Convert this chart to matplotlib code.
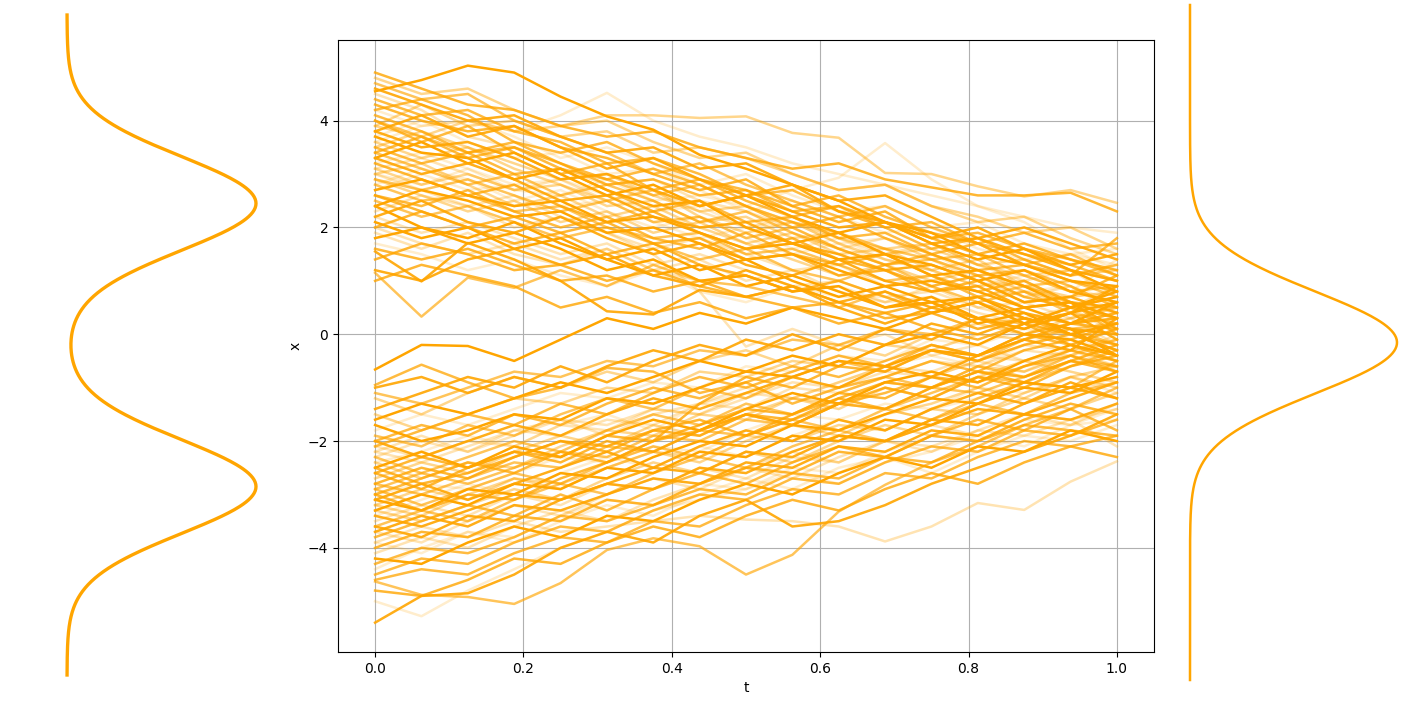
import numpy as np
import matplotlib
matplotlib.use("Agg")
import matplotlib.pyplot as plt

# time grid (17 steps from 0 to 1)
t = np.linspace(0, 1, 17)

# trajectories starting in the upper mode
upper_paths = [
    [4.55, 4.76, 5.03, 4.9, 4.45, 4.08, 3.83, 3.36, 3.1, 2.8, 2.5, 2.1, 1.9, 1.5, 1.3, 1.0, 0.9],
    [3.9, 3.7, 4.0, 3.8, 3.9, 4.1, 4.1, 4.05, 4.08, 3.77, 3.68, 3.02, 3.0, 2.77, 2.58, 2.7, 2.46],
    [4.9, 4.6, 4.3, 4.2, 3.9, 3.7, 3.8, 3.5, 3.3, 3.1, 3.2, 2.9, 2.75, 2.6, 2.6, 2.65, 2.3],
    [3.0, 2.8, 3.1, 2.7, 2.6, 2.9, 2.5, 2.6, 2.4, 2.7, 2.93, 3.58, 2.9, 2.4, 2.1, 1.6, 1.2],
    [1.15, 0.33, 1.06, 0.87, 1.2, 0.9, 1.3, 1.0, 0.9, 0.7, 0.5, 0.8, 0.4, 0.6, 0.3, 0.1, 0.2],
    [1.55, 0.99, 1.71, 1.4, 1.0, 0.43, 0.37, 0.83, 0.7, 0.9, 0.5, 0.2, 0.5, 0.3, 0.1, 0.4, -0.1],
    [4.5, 4.2, 3.7, 3.5, 3.1, 2.8, 2.9, 2.5, 2.3, 2.0, 1.6, 1.8, 1.4, 1.0, 0.7, 0.9, 0.5],
    [4.2, 4.4, 4.1, 3.6, 3.4, 3.6, 3.2, 2.9, 2.7, 2.4, 2.6, 2.2, 1.9, 1.7, 1.9, 1.6, 1.7],
    [3.7, 3.4, 3.3, 2.9, 3.1, 2.7, 2.4, 2.5, 2.0, 1.7, 1.9, 1.5, 1.3, 1.0, 1.2, 0.8, 0.6],
    [3.5, 3.8, 3.5, 3.2, 2.9, 3.0, 2.6, 2.3, 2.4, 2.1, 1.8, 1.6, 1.7, 1.3, 1.1, 1.2, 1.0],
    [3.2, 2.9, 2.6, 2.8, 2.4, 2.1, 2.3, 1.9, 1.6, 1.8, 1.4, 1.2, 0.9, 1.1, 0.7, 0.5, 0.3],
    [2.8, 3.1, 2.9, 2.5, 2.7, 2.3, 2.0, 2.2, 1.8, 1.5, 1.7, 1.3, 1.5, 1.1, 0.8, 0.9, 0.6],
    [2.5, 2.2, 2.4, 2.1, 1.8, 2.0, 1.7, 1.4, 1.6, 1.2, 1.0, 1.3, 0.9, 0.6, 0.8, 0.4, 0.2],
    [2.2, 2.5, 2.1, 1.9, 2.2, 1.8, 1.5, 1.7, 1.3, 1.1, 1.4, 1.0, 0.8, 0.9, 0.5, 0.6, 0.1],
    [1.9, 1.6, 1.9, 1.5, 1.3, 1.6, 1.2, 1.4, 1.0, 1.2, 0.8, 0.6, 0.9, 0.5, 0.3, 0.5, 0.0],
    [4.0, 3.6, 3.9, 3.4, 3.0, 3.2, 2.7, 2.9, 2.5, 2.2, 2.4, 2.0, 1.6, 1.8, 1.4, 1.1, 1.3],
    [3.3, 3.6, 3.2, 3.4, 3.0, 2.6, 2.8, 2.4, 2.6, 2.2, 1.9, 2.1, 1.7, 1.4, 1.6, 1.2, 0.8],
    [2.9, 2.6, 2.3, 2.5, 2.1, 2.3, 1.9, 2.1, 1.7, 1.4, 1.1, 1.3, 1.0, 1.2, 0.8, 0.6, 0.4],
    [2.0, 2.3, 2.0, 1.7, 1.9, 1.5, 1.7, 1.3, 1.1, 0.8, 1.0, 0.7, 0.4, 0.6, 0.2, 0.0, -0.2],
    [1.7, 1.5, 1.2, 1.4, 1.1, 0.9, 1.2, 0.8, 0.6, 0.9, 0.7, 0.7, 0.4, 0.1, 0.3, -0.1, -0.3],
    [4.7, 4.4, 4.5, 4.0, 3.7, 3.4, 3.0, 3.2, 2.8, 2.5, 2.2, 2.4, 2.0, 1.7, 1.3, 1.5, 1.1],
    [3.8, 4.1, 3.7, 3.9, 3.5, 3.1, 3.3, 2.9, 2.6, 2.8, 2.3, 2.1, 1.8, 2.0, 1.6, 1.3, 1.5],
    [3.1, 3.3, 3.0, 2.7, 2.9, 2.5, 2.7, 2.3, 2.0, 2.2, 1.8, 1.5, 1.7, 1.3, 1.0, 1.2, 0.7],
    [2.6, 2.4, 2.7, 2.3, 2.0, 2.2, 1.8, 1.6, 1.9, 1.5, 1.3, 1.5, 1.1, 0.8, 1.0, 0.6, 0.5],
    [2.4, 2.0, 1.8, 2.1, 1.7, 1.4, 1.6, 1.2, 1.4, 1.0, 0.7, 0.9, 0.6, 0.7, 0.3, 0.1, -0.4],
    [3.6, 3.3, 3.5, 3.1, 2.8, 2.5, 2.7, 2.2, 1.9, 2.1, 1.7, 1.4, 1.2, 1.4, 0.9, 0.7, 0.8],
    [4.3, 4.0, 3.8, 3.9, 3.5, 3.3, 3.0, 2.7, 2.9, 2.4, 2.1, 2.3, 1.8, 1.5, 1.7, 1.4, 1.2],
    [2.7, 3.0, 2.7, 2.8, 2.4, 2.5, 2.1, 1.8, 2.0, 1.6, 1.8, 1.4, 1.2, 0.9, 1.1, 0.8, 1.4],
    [3.4, 3.1, 2.8, 3.0, 2.6, 2.8, 2.5, 2.1, 2.3, 1.9, 1.6, 1.3, 1.5, 1.2, 0.9, 1.0, 0.7],
    [1.2, 1.0, 1.4, 1.6, 1.3, 1.5, 1.1, 0.9, 1.2, 0.9, 0.6, 0.8, 0.5, 0.7, 0.4, 0.2, 0.3],
    [3.0, 2.7, 2.4, 2.6, 2.2, 1.9, 1.5, 0.8, -0.23, 0.1, -0.2, 0.0, -0.4, -0.2, -0.5, -0.3, -0.6],
    [4.1, 3.8, 3.4, 3.6, 3.2, 2.9, 3.1, 2.8, 2.4, 2.0, 2.2, 1.8, 1.5, 1.7, 1.3, 1.1, 1.8],
    [2.1, 1.8, 2.0, 1.6, 1.8, 1.4, 1.1, 1.3, 0.9, 1.1, 0.8, 0.5, 0.7, 0.3, 0.5, 0.2, 0.6],
    [3.9, 4.3, 3.9, 4.0, 3.7, 3.8, 3.4, 3.5, 3.3, 3.0, 2.7, 2.8, 2.4, 2.2, 1.9, 2.0, 1.6],
    [1.0, 1.3, 1.1, 0.9, 0.5, 0.7, 0.4, 0.6, 0.3, 0.5, 0.2, 0.4, 0.1, -0.1, 0.2, -0.2, -0.5],
    [3.6, 3.9, 4.0, 3.8, 4.1, 4.52, 4.0, 3.7, 3.5, 3.2, 3.0, 2.8, 2.6, 2.4, 2.2, 2.0, 1.9],
    [4.0, 3.7, 3.4, 3.5, 3.1, 2.9, 2.6, 2.8, 2.4, 2.1, 1.9, 1.6, 1.4, 1.5, 1.1, 0.8, 0.9],
    [3.3, 3.0, 3.2, 2.9, 2.5, 2.6, 2.2, 2.0, 2.1, 1.7, 1.5, 1.2, 1.3, 1.0, 0.6, 0.7, 0.4],
    [2.3, 2.6, 2.4, 2.0, 2.2, 1.9, 1.6, 1.8, 1.5, 1.2, 1.3, 0.9, 1.1, 0.7, 0.8, 0.5, 0.9],
    [4.4, 4.1, 4.2, 3.8, 3.6, 3.2, 3.3, 3.0, 2.6, 2.7, 2.3, 2.0, 2.1, 1.7, 1.5, 1.3, 1.0],
    [1.8, 2.0, 1.7, 1.9, 1.6, 1.2, 1.4, 1.0, 1.1, 0.8, 0.9, 0.5, 0.6, 0.2, 0.4, 0.0, 0.2],
    [3.0, 3.2, 2.8, 2.4, 2.6, 2.2, 2.4, 2.0, 1.7, 1.9, 1.5, 1.6, 1.2, 0.9, 1.0, 0.6, 0.3],
    [2.6, 2.3, 2.0, 2.2, 1.9, 2.1, 1.7, 1.8, 1.4, 1.5, 1.1, 1.2, 0.8, 1.0, 0.6, 0.7, 1.1],
    [3.7, 4.0, 3.6, 3.3, 3.4, 3.0, 3.1, 2.7, 2.3, 2.5, 2.2, 1.9, 2.0, 1.6, 1.4, 1.5, 1.3],
    [2.9, 2.7, 2.9, 2.6, 2.3, 2.5, 2.1, 2.2, 1.8, 2.0, 1.6, 1.3, 1.4, 1.1, 1.2, 0.9, 0.5],
    [4.6, 4.3, 4.0, 4.1, 3.7, 3.4, 3.5, 3.1, 3.2, 2.8, 2.5, 2.6, 2.2, 1.8, 2.0, 1.7, 1.4],
    [2.0, 1.7, 1.5, 1.7, 1.4, 1.6, 1.2, 1.0, 1.1, 0.8, 0.9, 0.6, 0.7, 0.4, 0.2, 0.3, -0.2],
    [3.5, 3.2, 3.4, 3.0, 3.1, 2.7, 2.3, 2.5, 2.1, 2.2, 1.8, 1.9, 1.5, 1.2, 1.3, 1.0, 0.8],
    [2.4, 2.7, 2.5, 2.2, 2.3, 1.9, 2.0, 1.7, 1.4, 1.5, 1.2, 0.9, 1.0, 0.8, 0.5, 0.6, 0.3],
    [3.1, 2.8, 3.0, 2.7, 2.8, 2.4, 2.5, 2.1, 2.2, 1.8, 1.9, 1.5, 1.6, 1.3, 1.4, 1.1, 1.2],
    [1.4, 1.7, 1.5, 1.2, 1.3, 1.0, 1.2, 0.9, 0.7, 0.9, 0.6, 0.4, 0.6, 0.3, 0.0, 0.2, 0.1],
    [4.2, 3.9, 4.0, 3.7, 3.3, 3.5, 3.2, 2.8, 3.0, 2.6, 2.3, 2.4, 2.0, 2.1, 1.7, 1.5, 1.6],
    [2.8, 2.5, 2.6, 2.3, 2.4, 2.0, 1.8, 1.9, 1.5, 1.6, 1.3, 1.0, 1.1, 0.7, 0.9, 0.6, 0.0],
    [3.8, 3.5, 3.6, 3.3, 2.9, 3.0, 2.7, 2.4, 2.6, 2.3, 2.0, 2.1, 1.7, 1.8, 1.5, 1.2, 1.0],
    [2.2, 1.9, 2.1, 1.8, 1.5, 1.7, 1.3, 1.5, 1.2, 0.9, 1.0, 0.7, 0.8, 0.5, 0.6, 0.3, 0.5],
    [3.4, 3.7, 3.3, 3.5, 3.2, 2.8, 2.9, 2.6, 2.7, 2.3, 2.4, 2.1, 1.8, 1.9, 1.6, 1.4, 1.1],
    [2.7, 2.9, 2.6, 2.4, 2.5, 2.1, 2.2, 1.9, 1.6, 1.7, 1.4, 1.5, 1.1, 1.2, 0.9, 0.5, 0.7],
    [4.8, 4.5, 4.6, 4.2, 3.9, 4.0, 3.6, 3.3, 3.4, 3.0, 2.7, 2.8, 2.4, 2.1, 2.2, 1.8, 1.5],
    [1.6, 1.4, 1.6, 1.3, 1.0, 1.1, 0.8, 1.0, 0.7, 0.5, 0.6, 0.3, 0.4, 0.1, 0.3, 0.0, -0.3],
    [3.2, 3.4, 3.1, 2.8, 2.9, 2.6, 2.3, 2.4, 2.0, 2.1, 1.7, 1.8, 1.4, 1.1, 1.2, 0.9, 0.4],
]

# trajectories starting in the lower mode
lower_paths = [
    [-4.63, -4.88, -4.92, -5.05, -4.66, -4.04, -3.82, -3.97, -4.5, -4.13, -3.32, -2.82, -2.4, -2.1, -1.7, -1.4, -1.0],
    [-5.4, -4.9, -4.85, -4.5, -4.0, -3.7, -3.9, -3.4, -3.1, -3.6, -3.5, -3.2, -2.8, -2.5, -2.2, -1.9, -1.5],
    [-3.9, -3.6, -3.8, -3.5, -3.7, -3.6, -3.5, -3.4, -3.47, -3.5, -3.6, -3.88, -3.6, -3.16, -3.29, -2.76, -2.38],
    [-0.95, -0.57, -0.9, -1.2, -1.0, -0.63, -0.7, -1.1, -0.9, -1.3, -1.0, -0.8, -0.5, -0.7, -0.3, -0.1, 0.2],
    [-0.66, -0.2, -0.22, -0.5, -0.1, 0.3, 0.1, 0.4, 0.2, 0.5, 0.3, 0.1, 0.4, 0.6, 0.2, 0.5, 0.8],
    [-3.2, -3.4, -3.0, -2.7, -2.9, -2.5, -2.2, -2.4, -2.0, -1.7, -1.9, -1.5, -1.3, -1.0, -1.2, -0.8, -0.6],
    [-2.8, -2.5, -2.7, -2.3, -2.0, -2.2, -1.8, -1.6, -1.9, -1.5, -1.2, -1.4, -1.0, -0.7, -0.9, -0.5, -0.2],
    [-2.4, -2.2, -1.9, -2.1, -1.7, -1.5, -1.8, -1.3, -1.1, -0.8, -1.0, -0.6, -0.4, -0.6, -0.2, 0.1, 0.0],
    [-3.6, -3.3, -3.5, -3.1, -2.8, -3.0, -2.6, -2.3, -2.5, -2.1, -1.8, -2.0, -1.6, -1.3, -1.5, -1.1, -0.9],
    [-2.0, -2.3, -2.0, -1.7, -1.9, -1.5, -1.2, -1.4, -1.1, -0.8, -1.0, -0.6, -0.8, -0.4, -0.1, -0.3, 0.3],
    [-4.1, -3.8, -4.0, -3.6, -3.3, -3.5, -3.1, -2.8, -2.5, -2.7, -2.3, -2.0, -2.2, -1.8, -1.5, -1.7, -1.3],
    [-3.0, -2.7, -2.4, -2.6, -2.2, -2.4, -2.0, -1.8, -1.5, -1.7, -1.3, -1.1, -0.8, -1.0, -0.6, -0.4, -0.7],
    [-1.6, -1.3, -1.5, -1.2, -0.9, -1.1, -0.8, -0.5, -0.7, -0.4, -0.6, -0.2, 0.0, -0.2, 0.2, 0.4, 0.6],
    [-3.3, -3.5, -3.2, -2.9, -3.1, -2.7, -2.4, -2.6, -2.2, -2.4, -2.0, -1.7, -1.9, -1.5, -1.2, -1.4, -1.1],
    [-2.6, -2.9, -2.5, -2.2, -2.4, -2.0, -2.2, -1.8, -1.5, -1.7, -1.3, -1.0, -1.2, -0.8, -1.0, -0.6, -0.4],
    [-4.4, -4.0, -3.7, -3.9, -3.5, -3.2, -3.4, -3.0, -2.7, -2.9, -2.5, -2.3, -2.6, -2.2, -1.9, -2.0, -1.7],
    [-1.9, -2.1, -1.7, -1.9, -1.5, -1.2, -1.4, -1.0, -1.2, -0.8, -0.5, -0.7, -0.3, -0.5, -0.1, 0.1, -0.2],
    [-3.1, -2.8, -3.1, -2.8, -2.5, -2.2, -2.5, -2.1, -1.8, -2.0, -1.6, -1.8, -1.4, -1.1, -1.3, -0.9, -1.2],
    [-2.2, -1.9, -2.2, -1.8, -1.6, -1.9, -1.5, -1.3, -1.0, -1.2, -0.9, -0.6, -0.8, -0.5, -0.7, -0.3, -0.1],
    [-3.8, -3.5, -3.2, -3.4, -3.0, -3.3, -2.9, -2.6, -2.8, -2.4, -2.1, -2.3, -1.9, -1.6, -1.8, -1.4, -1.8],
    [-2.5, -2.2, -2.5, -2.1, -2.3, -1.9, -1.6, -1.8, -1.4, -1.1, -1.3, -0.9, -0.7, -0.9, -0.5, -0.2, -0.4],
    [-1.2, -1.5, -1.1, -0.8, -1.0, -0.7, -0.9, -0.5, -0.3, -0.6, -0.2, -0.4, 0.0, 0.2, 0.0, 0.3, 0.5],
    [-4.8, -4.9, -4.6, -4.2, -4.3, -3.9, -3.6, -3.8, -3.4, -3.1, -3.3, -2.9, -2.6, -2.8, -2.4, -2.1, -2.3],
    [-3.4, -3.1, -2.8, -3.0, -2.6, -2.3, -2.5, -2.1, -2.3, -1.9, -1.6, -1.8, -1.4, -1.2, -0.9, -1.1, -0.8],
    [-2.9, -3.2, -2.9, -2.6, -2.8, -2.4, -2.1, -2.3, -1.9, -1.6, -1.8, -1.4, -1.6, -1.2, -0.9, -1.0, -0.5],
    [-1.4, -1.1, -0.8, -1.0, -0.6, -0.9, -0.5, -0.2, -0.4, 0.0, -0.3, 0.1, -0.1, 0.3, 0.1, 0.4, 0.9],
    [-3.7, -3.9, -3.5, -3.2, -3.4, -3.0, -2.7, -2.9, -2.5, -2.2, -2.4, -2.0, -1.7, -1.9, -1.5, -1.6, -1.4],
    [-2.1, -1.8, -1.5, -1.7, -1.3, -1.5, -1.1, -0.8, -1.0, -0.7, -0.4, -0.6, -0.2, -0.4, 0.0, -0.2, 0.1],
    [-4.2, -4.3, -3.9, -3.6, -3.8, -3.4, -3.5, -3.1, -2.8, -3.0, -2.6, -2.3, -2.5, -2.1, -2.2, -1.8, -2.0],
    [-2.7, -2.4, -2.6, -2.2, -1.9, -2.1, -1.7, -1.9, -1.5, -1.2, -1.4, -1.0, -1.2, -0.8, -0.5, -0.7, -0.9],
    [-3.0, -3.3, -3.0, -3.1, -2.7, -2.4, -2.0, -1.3, -0.8, -1.0, -0.6, -0.7, -0.3, -0.5, -0.2, 0.0, -0.3],
    [-5.0, -5.28, -4.8, -4.4, -4.0, -3.7, -3.3, -3.1, -2.9, -2.6, -2.8, -2.4, -2.2, -1.9, -2.1, -1.7, -1.6],
    [-2.3, -2.6, -2.3, -2.0, -2.2, -1.8, -1.5, -1.7, -1.3, -1.5, -1.1, -0.8, -1.0, -0.6, -0.8, -0.4, -0.6],
    [-1.0, -0.8, -1.1, -0.8, -1.0, -0.6, -0.3, -0.5, -0.1, -0.3, 0.0, -0.2, 0.2, 0.0, 0.3, 0.1, 0.0],
    [-3.5, -3.2, -3.4, -3.0, -3.2, -2.8, -2.9, -2.5, -2.7, -2.3, -2.4, -2.0, -2.1, -1.8, -1.9, -1.6, -2.1],
    [-2.0, -1.7, -1.9, -1.5, -1.7, -1.3, -1.0, -1.2, -0.9, -0.6, -0.8, -0.5, -0.2, -0.4, -0.1, 0.2, 0.4],
    [-3.3, -3.0, -3.2, -2.8, -2.9, -2.5, -2.6, -2.2, -2.3, -1.9, -2.0, -1.6, -1.7, -1.3, -1.0, -1.1, -0.7],
    [-2.4, -2.7, -2.4, -2.5, -2.1, -1.8, -1.9, -1.5, -1.6, -1.2, -1.3, -0.9, -1.0, -0.6, -0.7, -0.4, -0.1],
    [-4.0, -3.7, -3.8, -3.4, -3.5, -3.1, -3.2, -2.8, -2.5, -2.6, -2.2, -2.3, -1.9, -2.0, -1.6, -1.3, -1.5],
    [-1.8, -1.5, -1.7, -1.4, -1.1, -1.2, -0.9, -1.0, -0.6, -0.7, -0.4, -0.5, -0.1, -0.2, 0.1, 0.0, 0.3],
    [-2.9, -2.6, -2.8, -2.5, -2.2, -2.3, -1.9, -2.0, -1.6, -1.7, -1.3, -1.4, -1.1, -0.8, -0.9, -0.6, -0.3],
    [-3.6, -3.8, -3.4, -3.5, -3.1, -2.8, -2.9, -2.5, -2.6, -2.2, -1.9, -2.0, -1.6, -1.7, -1.3, -1.0, -1.2],
    [-2.2, -2.4, -2.1, -1.8, -1.9, -1.6, -1.7, -1.3, -1.4, -1.0, -1.1, -0.8, -0.5, -0.6, -0.3, -0.4, 0.0],
    [-4.5, -4.2, -4.3, -3.9, -3.6, -3.7, -3.3, -3.0, -3.1, -2.7, -2.8, -2.4, -2.1, -2.2, -1.8, -1.9, -1.6],
    [-3.1, -3.3, -2.9, -3.0, -2.6, -2.7, -2.3, -2.0, -2.1, -1.7, -1.8, -1.5, -1.2, -1.3, -0.9, -1.0, -0.8],
    [-1.5, -1.8, -1.5, -1.2, -1.3, -1.0, -1.1, -0.7, -0.8, -0.5, -0.6, -0.2, -0.3, 0.0, -0.1, 0.2, 0.4],
    [-2.6, -2.3, -2.5, -2.2, -2.3, -1.9, -2.0, -1.7, -1.4, -1.5, -1.1, -1.2, -0.8, -0.9, -0.6, -0.3, -0.5],
    [-3.9, -4.1, -3.7, -3.8, -3.4, -3.1, -3.2, -2.8, -2.9, -2.5, -2.6, -2.2, -1.9, -2.0, -1.6, -1.7, -1.4],
    [-2.8, -3.0, -2.7, -2.4, -2.5, -2.1, -2.2, -1.8, -1.9, -1.6, -1.3, -1.4, -1.0, -1.1, -0.8, -0.5, -0.6],
    [-3.4, -3.6, -3.3, -3.0, -3.1, -2.8, -2.5, -2.6, -2.2, -2.3, -1.9, -2.0, -1.7, -1.4, -1.5, -1.2, -0.9],
    [-2.3, -2.0, -2.2, -1.9, -1.6, -1.7, -1.4, -1.5, -1.1, -1.2, -0.9, -0.6, -0.7, -0.4, -0.5, -0.2, 0.1],
    [-4.3, -4.0, -4.1, -3.8, -3.4, -3.5, -3.2, -2.9, -3.0, -2.6, -2.7, -2.3, -2.4, -2.0, -1.7, -1.8, -1.9],
    [-1.7, -2.0, -1.8, -1.5, -1.6, -1.2, -1.3, -1.0, -0.7, -0.8, -0.5, -0.6, -0.3, -0.4, 0.0, -0.1, -0.4],
    [-3.2, -2.9, -3.1, -2.7, -2.8, -2.5, -2.2, -2.3, -1.9, -2.0, -1.7, -1.8, -1.4, -1.5, -1.1, -0.8, -1.0],
    [-2.5, -2.8, -2.6, -2.3, -2.0, -2.1, -1.8, -1.9, -1.5, -1.6, -1.2, -0.9, -1.0, -0.7, -0.8, -0.5, -0.7],
    [-3.0, -2.8, -2.9, -2.6, -2.3, -2.4, -2.1, -2.2, -1.8, -1.5, -1.6, -1.3, -1.4, -1.0, -1.1, -0.8, -1.1],
    [-1.1, -1.3, -1.0, -0.7, -0.8, -0.5, -0.6, -0.3, -0.4, -0.1, -0.2, 0.1, 0.0, 0.3, 0.2, 0.5, 0.7],
    [-3.7, -3.4, -3.6, -3.2, -3.3, -3.0, -2.7, -2.8, -2.4, -2.5, -2.1, -2.2, -1.8, -1.9, -1.5, -1.6, -1.3],
    [-2.1, -2.3, -2.0, -2.1, -1.7, -1.8, -1.4, -1.5, -1.2, -0.9, -1.0, -0.7, -0.8, -0.5, -0.2, -0.3, -0.1],
    [-4.6, -4.4, -4.5, -4.1, -3.8, -3.9, -3.5, -3.6, -3.2, -2.9, -3.0, -2.6, -2.7, -2.3, -2.0, -2.1, -1.9],
]

# side densities: two-mode start, one-mode end
start_means = [2.66, -2.66]
start_sd = 0.88
end_mean = 0.0
end_sd = 0.95

color = "#FFA500"

fig = plt.figure(figsize=(14.06, 7.12), dpi=100)

ax = fig.add_axes([338 / 1406, 60 / 712, 816 / 1406, 612 / 712])
alphas = [1.0, 0.45, 0.8, 0.2, 0.65, 0.9, 0.3, 0.75]
for k, p in enumerate(upper_paths + lower_paths):
    ax.plot(t, p, color=color, lw=1.8, alpha=alphas[k % len(alphas)])
ax.set_xlim(-0.05, 1.05)
ax.set_ylim(-5.95, 5.51)
ax.set_xlabel("t")
ax.set_ylabel("x")
ax.grid(True)

# left density (start)
yl = np.linspace(-6.2, 6.2, 600)
pl = sum(np.exp(-0.5 * ((yl - m) / start_sd) ** 2) for m in start_means)
axl = fig.add_axes([67 / 1406, 37 / 712, 189 / 1406, 660 / 712])
axl.plot(pl, yl, color=color, lw=2.4, clip_on=False)
axl.set_xlim(0, pl.max())
axl.set_ylim(yl[0], yl[-1])
axl.axis("off")

# right density (end)
yr = np.linspace(-6.3, 6.3, 600)
pr = np.exp(-0.5 * ((yr - end_mean) / end_sd) ** 2)
axr = fig.add_axes([1190 / 1406, 32 / 712, 207 / 1406, 675 / 712])
axr.plot(pr, yr, color=color, lw=1.8, clip_on=False)
axr.set_xlim(0, pr.max())
axr.set_ylim(yr[0], yr[-1])
axr.axis("off")

fig.savefig("out.png", dpi=100)
